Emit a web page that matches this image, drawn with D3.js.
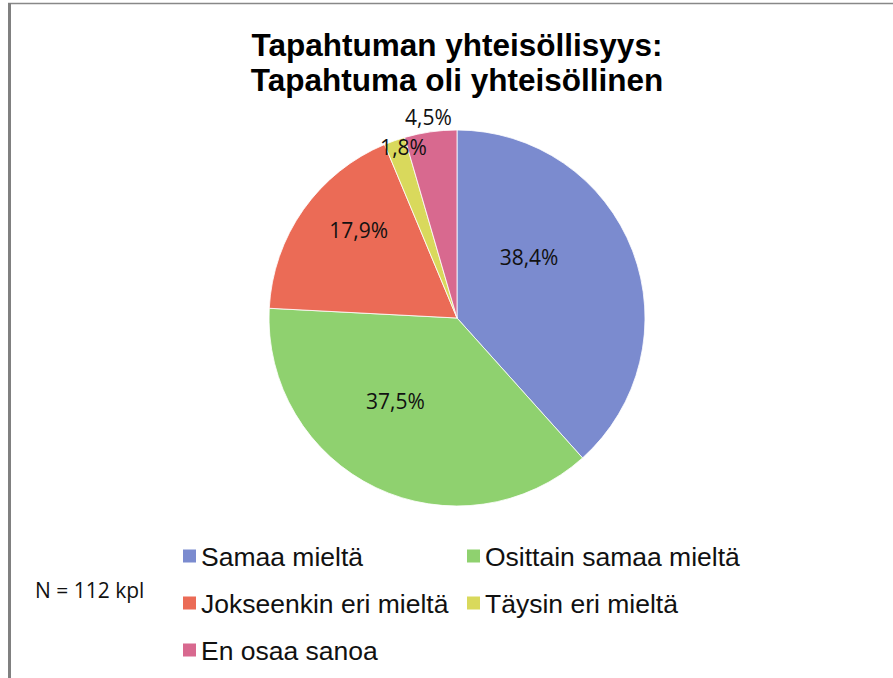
<!DOCTYPE html>
<html>
<head>
<meta charset="utf-8">
<script src="https://cdn.jsdelivr.net/npm/d3@7"></script>
<style>
  body { margin: 0; background: #fff; }
</style>
</head>
<body>
<svg width="893" height="678"></svg>
<script>
// Chart data
const CATEGORIES = ["Samaa mieltä", "Osittain samaa mieltä", "Jokseenkin eri mieltä", "Täysin eri mieltä", "En osaa sanoa"];
const PERCENTAGES = [38.4, 37.5, 17.9, 1.8, 4.5];
const COLOURS = ["#7b8bcf", "#8fd16f", "#eb6b56", "#d9d95c", "#d8698f"];
const TITLE_LINES = ["Tapahtuman yhteisöllisyys:", "Tapahtuma oli yhteisöllinen"];
const NOTE = "N = 112 kpl";

// Label placement tweaks (angle shift in degrees, radius as share of pie radius)
const LABEL_SHIFT = [-19, 11, 6.5, 2, 0];
const LABEL_RADIUS = [0.5, 0.55, 0.7, 0.95, 1.08];

const svg = d3.select("svg");
const cx = 457, cy = 318, radius = 188;

// Frame
svg.append("line").attr("x1", 8).attr("x2", 893).attr("y1", 3.5).attr("y2", 3.5)
    .attr("stroke", "#888").attr("stroke-width", 1.5);
svg.append("line").attr("x1", 9.5).attr("x2", 9.5).attr("y1", 3).attr("y2", 678)
    .attr("stroke", "#808080").attr("stroke-width", 3);

// Title
svg.append("g")
    .selectAll("text")
    .data(TITLE_LINES)
    .enter()
    .append("text")
    .attr("x", cx)
    .attr("y", (d, i) => 56 + i * 35)
    .attr("text-anchor", "middle")
    .style("font-family", "'Liberation Sans', Arial, sans-serif")
    .style("font-weight", "bold")
    .style("font-size", "31.5px")
    .text((d) => d);

// Pie
const pie = d3.pie().sort(null).value((d) => d);
const arc = d3.arc().innerRadius(0).outerRadius(radius);
const arcs = pie(PERCENTAGES);

const g = svg.append("g").attr("transform", `translate(${cx},${cy})`);

g.selectAll("path")
    .data(arcs)
    .enter()
    .append("path")
    .attr("d", arc)
    .attr("fill", (d, i) => COLOURS[i])
    .attr("stroke", "#fff")
    .attr("stroke-width", 0.8);

g.selectAll("text")
    .data(arcs)
    .enter()
    .append("text")
    .attr("transform", (d, i) => {
        const a = (d.startAngle + d.endAngle) / 2 + LABEL_SHIFT[i] * Math.PI / 180;
        const r = radius * LABEL_RADIUS[i];
        return `translate(${r * Math.sin(a)},${-r * Math.cos(a)})`;
    })
    .attr("text-anchor", "middle")
    .attr("dy", "0.36em")
    .style("font-family", "'Open Sans', sans-serif")
    .style("font-size", "21px")
    .style("fill", "#111")
    .text((d) => d.data.toFixed(1).replace(".", ",") + "%");

// Legend
const legend = svg.append("g")
    .selectAll("g")
    .data(CATEGORIES)
    .enter()
    .append("g")
    .attr("transform", (d, i) => `translate(${183 + (i % 2) * 284},${556 + Math.floor(i / 2) * 47})`);

legend.append("rect")
    .attr("x", 0).attr("y", -6.5)
    .attr("width", 13).attr("height", 13)
    .attr("fill", (d, i) => COLOURS[i]);

legend.append("text")
    .attr("x", 18)
    .attr("y", 9.5)
    .style("font-family", "'Liberation Sans', Arial, sans-serif")
    .style("font-size", "26.5px")
    .style("fill", "#111")
    .text((d) => d);

// Note
svg.append("text")
    .attr("x", 35)
    .attr("y", 598)
    .style("font-family", "'Open Sans', sans-serif")
    .style("font-size", "21px")
    .style("fill", "#111")
    .text(NOTE);
</script>
</body>
</html>
